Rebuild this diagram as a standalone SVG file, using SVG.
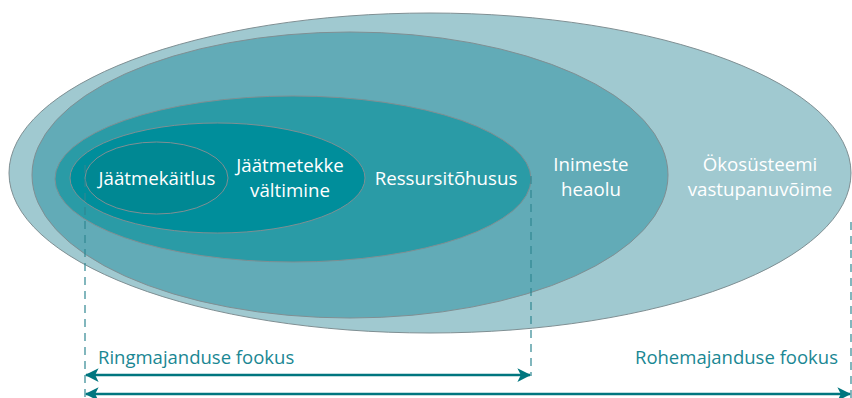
<svg xmlns="http://www.w3.org/2000/svg" width="852" height="398" viewBox="0 0 852 398">
<style>
.e{stroke:#7f8f93;stroke-width:1}
.w{fill:#ffffff;font-family:"Open Sans",sans-serif;font-size:18.7px;text-anchor:middle}
.l{fill:#1a8793;font-family:"Open Sans",sans-serif;font-size:18.5px}
.d{stroke:#2f8792;stroke-width:1.2;stroke-dasharray:8,6;fill:none}
.a{stroke:#00767f;stroke-width:2.5;fill:none}
</style>
<defs>
<marker id="ah" viewBox="0 0 12 12" refX="11" refY="6" markerWidth="5.5" markerHeight="5.5" orient="auto-start-reverse" markerUnits="strokeWidth">
<path d="M0,0 L12,6 L0,12 L3,6 Z" fill="#00767f"/>
</marker>
</defs>
<g id="n-okosusteemi">
<ellipse class="e" cx="430" cy="173" rx="421" ry="160" fill="#a0c9d0"/>
<text class="w" x="760" y="171">Ökosüsteemi</text>
<text class="w" x="760" y="196">vastupanuvõime</text>
</g>
<g id="n-inimeste">
<ellipse class="e" cx="350" cy="175" rx="318" ry="143" fill="#62abb7"/>
<text class="w" x="591" y="171">Inimeste</text>
<text class="w" x="591" y="196">heaolu</text>
</g>
<g id="n-ressursi">
<ellipse class="e" cx="293" cy="179" rx="238" ry="83" fill="#2a9ba6"/>
<text class="w" x="446" y="185">Ressursitõhusus</text>
</g>
<g id="n-valtimine">
<ellipse class="e" cx="217.5" cy="178" rx="147.5" ry="55" fill="#008e9b"/>
<text class="w" x="290" y="172">Jäätmetekke</text>
<text class="w" x="290" y="197">vältimine</text>
</g>
<g id="n-kaitlus">
<ellipse class="e" cx="156.5" cy="178" rx="71.5" ry="36" fill="#008893"/>
<text class="w" x="157" y="185">Jäätmekäitlus</text>
</g>
<g id="connectors">
<line class="d" x1="85" y1="165" x2="85" y2="398"/>
<line class="d" x1="531" y1="176" x2="531" y2="376"/>
<line class="d" x1="851" y1="222" x2="851" y2="398"/>
<line class="a" x1="86" y1="375" x2="530" y2="375" marker-start="url(#ah)" marker-end="url(#ah)"/>
<line class="a" x1="86" y1="394" x2="850" y2="394" marker-start="url(#ah)" marker-end="url(#ah)"/>
</g>
<text class="l" x="98" y="364">Ringmajanduse fookus</text>
<text class="l" x="838" y="364" text-anchor="end">Rohemajanduse fookus</text>
</svg>
